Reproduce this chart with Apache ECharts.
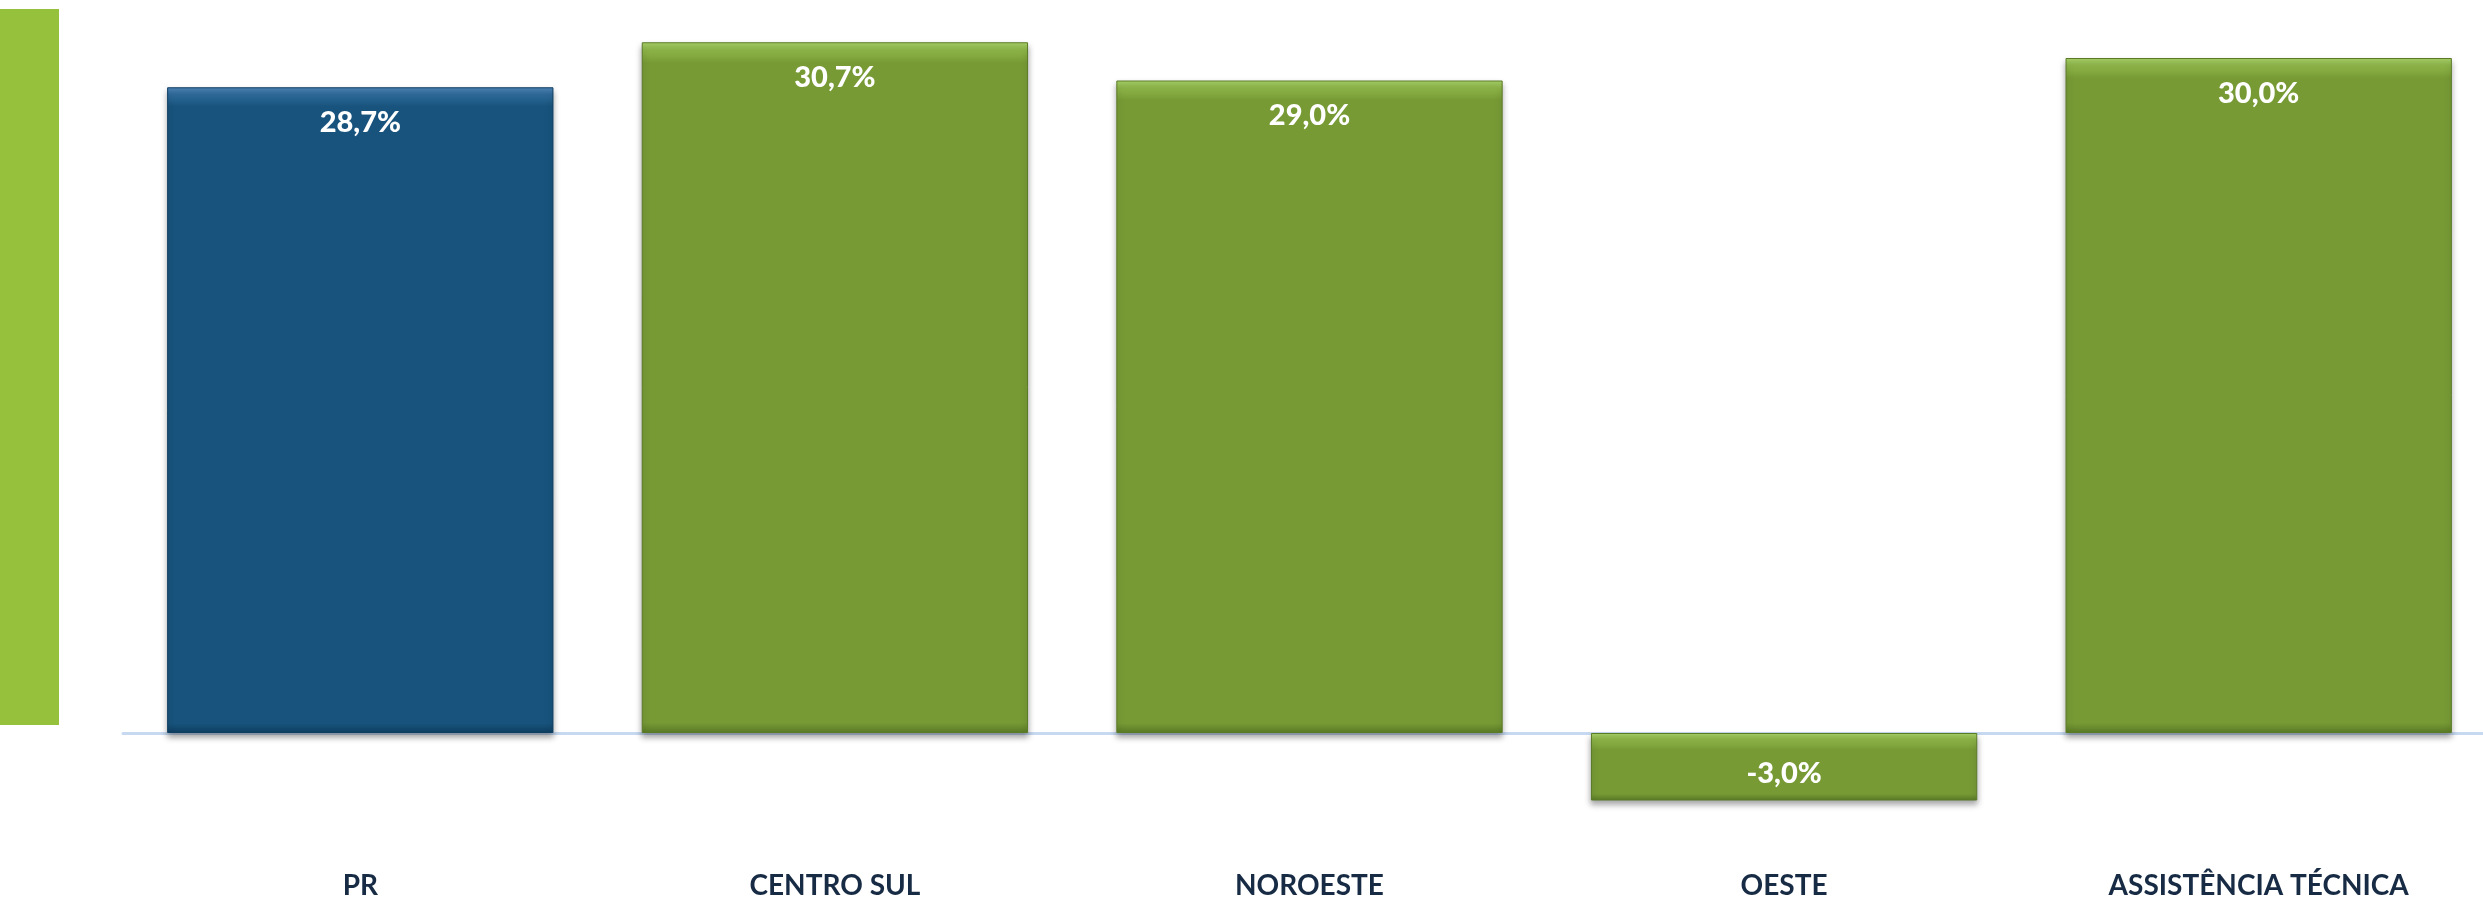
<!DOCTYPE html>
<html>
<head>
<meta charset="utf-8">
<script src="https://cdn.jsdelivr.net/npm/echarts@6/dist/echarts.min.js"></script>
<style>
html,body{margin:0;padding:0;background:#fff;}
#chart{width:2483px;height:900px;}
</style>
</head>
<body>
<div id="chart"></div>
<script>
const categories = ['PR', 'CENTRO SUL', 'NOROESTE', 'OESTE', 'ASSISTÊNCIA TÉCNICA'];
const values = [28.7, 30.7, 29.0, -3.0, 30.0];
const barColors = ['#17537C', '#779A35', '#779A35', '#779A35', '#779A35'];
const borderColors = ['#0F3E60', '#5A7A26', '#5A7A26', '#5A7A26', '#5A7A26'];

function fmt(v){ return v.toFixed(1).replace('.', ',') + '%'; }

const chart = echarts.init(document.getElementById('chart'), null, {renderer:'canvas'});
chart.setOption({
  animation:false,
  backgroundColor:'#ffffff',
  graphic:[{
    type:'rect', left:0, top:9, shape:{width:59, height:716},
    style:{fill:'#95C13D'}
  }],
  grid:{left:123, top:13, width:2373, height:810, containLabel:false, outerBoundsMode:'none'},
  xAxis:{
    type:'category', data:categories,
    axisLine:{show:true, onZero:true, lineStyle:{color:'#C6D9F0', width:3}},
    axisTick:{show:false},
    axisLabel:{
      show:true, interval:0, color:'#172B45', fontFamily:'Lato', fontWeight:'bold', fontSize:28,
      margin:49
    },
    position:'bottom'
  },
  yAxis:{
    type:'value', min:-4, max:32, show:false, splitLine:{show:false}
  },
  series:[{
    type:'bar',
    data: values.map((v,i)=>({
      value:v,
      label: v < 0 ? {distance:26} : {distance:21},
      itemStyle:{
        color:{type:'linear', x:0, y:0, x2:0, y2:1, colorStops: v>=0 ? [
          {offset:0, color: i===0 ? '#4F86B8' : '#A9D36A'},
          {offset:0.012, color: i===0 ? '#2E6A9A' : '#8DB548'},
          {offset:0.03, color: barColors[i]},
          {offset:0.985, color: barColors[i]},
          {offset:1, color: borderColors[i]}
        ] : [
          {offset:0, color:'#A9D36A'},
          {offset:0.1, color:'#8DB548'},
          {offset:0.25, color: barColors[i]},
          {offset:0.9, color: barColors[i]},
          {offset:1, color: borderColors[i]}
        ]},
        borderColor:borderColors[i], borderWidth:1,
        shadowColor:'rgba(0,0,0,0.35)', shadowBlur:6, shadowOffsetY:4
      }
    })),
    barCategoryGap:'18.6%',
    label:{
      show:true, position:'insideTop',
      color:'#ffffff', fontFamily:'Lato', fontWeight:900, fontSize:29,
      formatter:p=>fmt(p.value)
    }
  }]
});
</script>
</body>
</html>
